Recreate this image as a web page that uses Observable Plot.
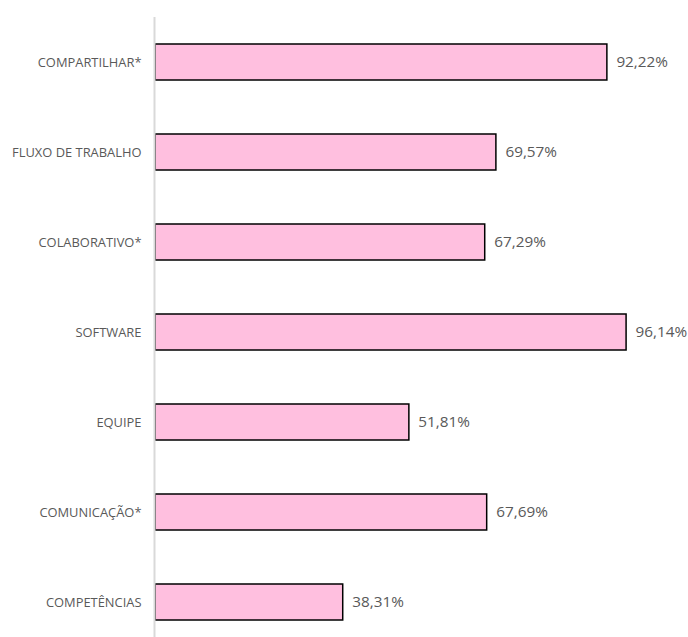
<!DOCTYPE html>
<html>
<head>
<meta charset="utf-8">
<script src="https://cdn.jsdelivr.net/npm/d3@7"></script>
<script src="https://cdn.jsdelivr.net/npm/@observablehq/plot@0.6"></script>
<style>
  html, body { margin: 0; padding: 0; background: #fff; }
  #chart { width: 688px; height: 637px; }
</style>
</head>
<body>
<div id="chart"></div>
<script>
const categories = ["COMPARTILHAR*", "FLUXO DE TRABALHO", "COLABORATIVO*", "SOFTWARE", "EQUIPE", "COMUNICAÇÃO*", "COMPETÊNCIAS"];
const values = [92.22, 69.57, 67.29, 96.14, 51.81, 67.69, 38.31];
const labels = ["92,22%", "69,57%", "67,29%", "96,14%", "51,81%", "67,69%", "38,31%"];

const data = categories.map((c, i) => ({cat: c, value: values[i], label: labels[i]}));

const chart = Plot.plot({
  width: 688,
  height: 637,
  marginLeft: 155,
  marginRight: 43,
  marginTop: 17,
  marginBottom: 0,
  style: {fontFamily: "'Open Sans', sans-serif", fontSize: "12px", color: "#595959", background: "#fff"},
  x: {domain: [0, 100], axis: null},
  y: {domain: categories, range: [17, 647], paddingInner: 0.6, paddingOuter: 0.3, label: null},
  marks: [
    Plot.axisY({tickSize: 0, tickPadding: 14, fontSize: 12.9, fill: "#595959", label: null}),
    Plot.barX(data, {y: "cat", x: "value", fill: "#ffbfdf", stroke: "#000", strokeWidth: 1.5}),
    Plot.ruleX([0], {stroke: "#d9d9d9", strokeWidth: 2, dx: -1}),
    Plot.text(data, {y: "cat", x: "value", text: "label", textAnchor: "start", dx: 9, fontSize: 15.3, fill: "#595959"})
  ]
});
document.getElementById("chart").appendChild(chart);
</script>
</body>
</html>
